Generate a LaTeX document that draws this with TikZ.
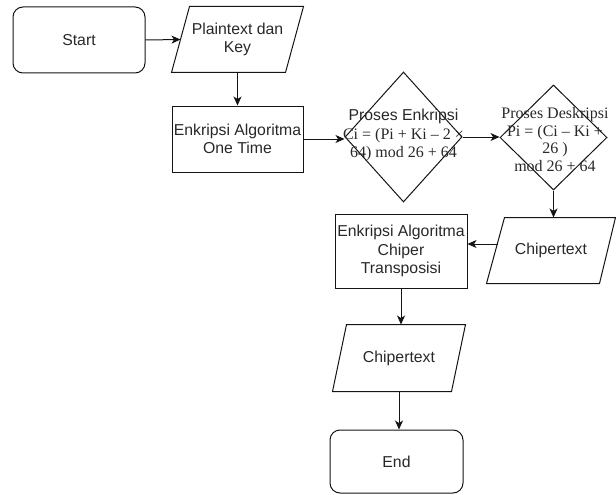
\documentclass[tikz,border=0pt]{standalone}
\usepackage{fontspec}
\setmainfont{Liberation Sans}
\newfontfamily\tnr{Liberation Serif}
\usetikzlibrary{shapes.geometric,arrows.meta}
\definecolor{txt}{RGB}{40,40,40}
\definecolor{ln}{RGB}{20,20,20}
\begin{document}
\begin{tikzpicture}[x=1pt,y=-1pt,line width=1pt,
  every node/.style={font=\fontsize{15.8}{18.5}\selectfont, text=txt},
  box/.style={draw=ln, rectangle, inner sep=0pt, align=center},
  term/.style={box, rounded corners=10pt},
  paratext/.style={rectangle, draw=none, inner sep=0pt, align=center},
  dia/.style={draw=ln, diamond, inner sep=0pt},
  outline/.style={draw=ln},
  arr/.style={draw=ln, -{Stealth[length=9pt,width=8pt,inset=2.5pt]}}]
\useasboundingbox (0,0) rectangle (616,495);

% nodes
\node[term, minimum width=132pt, minimum height=66pt] (start) at (79,40) {Start};
\node[paratext, minimum width=131pt, minimum height=65pt] (plain) at (237.5,39.5) {Plaintext dan\\Key};
\node[box, minimum width=131pt, minimum height=66pt] (enk1) at (237.5,139) {Enkripsi Algoritma\\One Time};
\node[dia, minimum width=117pt, minimum height=130pt] (d1) at (403.5,137) {};
\node[align=center, inner sep=0pt] (d1t) at (403.5,135) {Proses Enkripsi\\{\tnr\fontsize{16}{17.5}\selectfont Ci = (Pi + Ki – 2 ×}\\{\tnr\fontsize{16}{17.5}\selectfont 64) mod 26 + 64}};
\node[dia, minimum width=107pt, minimum height=105pt] (d2) at (553.5,137.5) {};
\node[align=center, inner sep=0pt, font=\tnr\fontsize{16}{17.5}\selectfont] (d2t) at (555,139.5) {Proses Deskripsi\\Pi = (Ci – Ki +\\26 )\\mod 26 + 64};
\node[paratext, minimum width=128pt, minimum height=65pt] (cip1) at (551,250.5) {Chipertext};
\node[box, minimum width=132pt, minimum height=74pt] (enk2) at (401,251) {Enkripsi Algoritma\\Chiper\\Transposisi};
\node[paratext, minimum width=132pt, minimum height=66pt] (cip2) at (399,358) {Chipertext};
\node[term, minimum width=133pt, minimum height=63pt] (end) at (396.5,461.5) {End};

% parallelogram outlines
\draw[outline] ([xshift=18pt]plain.north west) -- (plain.north east) -- ([xshift=-18pt]plain.south east) -- (plain.south west) -- cycle;
\draw[outline] ([xshift=18pt]cip1.north west) -- (cip1.north east) -- ([xshift=-16pt]cip1.south east) -- (cip1.south west) -- cycle;
\draw[outline] ([xshift=14pt]cip2.north west) -- (cip2.north east) -- ([xshift=-14pt]cip2.south east) -- (cip2.south west) -- cycle;

% connectors
\coordinate (plainl) at ([xshift=9pt]plain.west);
\coordinate (cip1l) at (498,244);
\draw[arr] (start.east) -- (plainl);
\draw[arr] (plain.south) -- (enk1.north);
\draw[arr] (enk1.east) -- (enk1.east -| d1.west);
\draw[arr] (d1.east) -- (d1.east -| d2.west);
\draw[arr] (d2.south) -- (d2.south |- cip1.north);
\draw[arr] (cip1l) -- (cip1l -| enk2.east);
\draw[arr] (enk2.south) -- (enk2.south |- cip2.north);
\draw[arr] (cip2.south) -- (cip2.south |- end.north);
\end{tikzpicture}
\end{document}
